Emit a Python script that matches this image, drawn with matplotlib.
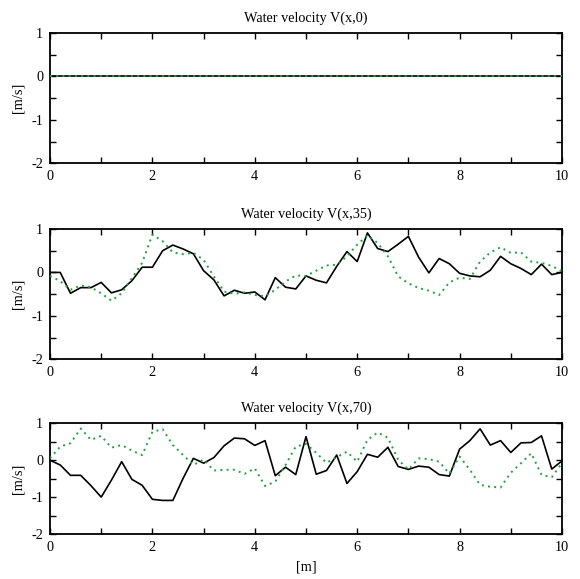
import numpy as np
import matplotlib
matplotlib.use("Agg")
import matplotlib.pyplot as plt

plt.rcParams['font.family'] = ['Liberation Serif', 'DejaVu Serif']

# spatial grid [m]
x = np.linspace(0, 10, 51)

# V(x,0): still water
v0_solid = np.zeros(51)
v0_dotted = np.zeros(51)

# V(x,35)
v35_solid = [0.0, 0.0, -0.48, -0.35, -0.35, -0.23, -0.47, -0.40, -0.19, 0.12,
             0.12, 0.50, 0.63, 0.54, 0.43, 0.04, -0.17, -0.54, -0.41, -0.48,
             -0.45, -0.63, -0.12, -0.34, -0.38, -0.08, -0.18, -0.24, 0.14, 0.48,
             0.25, 0.91, 0.55, 0.48, 0.65, 0.83, 0.35, -0.01, 0.32, 0.20,
             -0.02, -0.08, -0.10, 0.05, 0.37, 0.20, 0.09, -0.05, 0.19, -0.05,
             0.0]
v35_dotted = [-0.08, -0.20, -0.40, -0.30, -0.34, -0.48, -0.65, -0.48, -0.13, 0.22,
              0.87, 0.72, 0.46, 0.42, 0.45, 0.29, -0.09, -0.44, -0.49, -0.46,
              -0.52, -0.55, -0.40, -0.21, -0.07, -0.08, 0.04, 0.16, 0.18, 0.37,
              0.64, 0.85, 0.68, 0.37, -0.09, -0.25, -0.36, -0.42, -0.52, -0.23,
              -0.12, -0.15, 0.25, 0.46, 0.58, 0.45, 0.46, 0.25, 0.22, 0.15,
              0.02]

# V(x,70)
v70_solid = [0.0, -0.13, -0.41, -0.41, -0.69, -1.00, -0.54, -0.04, -0.52, -0.68,
             -1.06, -1.09, -1.09, -0.49, 0.05, -0.08, 0.07, 0.39, 0.60, 0.58,
             0.40, 0.53, -0.42, -0.19, -0.39, 0.64, -0.38, -0.28, 0.14, -0.63,
             -0.31, 0.16, 0.08, 0.35, -0.17, -0.25, -0.16, -0.19, -0.39, -0.43,
             0.30, 0.53, 0.85, 0.41, 0.53, 0.21, 0.47, 0.48, 0.66, -0.24,
             -0.02]
v70_dotted = [0.05, 0.37, 0.46, 0.86, 0.55, 0.66, 0.34, 0.41, 0.26, 0.14,
              0.77, 0.84, 0.41, 0.14, -0.13, 0.02, -0.28, -0.26, -0.26, -0.37,
              -0.22, -0.70, -0.58, -0.13, 0.37, 0.44, 0.20, -0.07, 0.08, 0.23,
              -0.04, 0.55, 0.75, 0.61, 0.01, -0.25, 0.05, 0.03, -0.04, -0.36,
              0.10, -0.26, -0.67, -0.72, -0.74, -0.34, -0.08, 0.19, -0.40, -0.46,
              -0.08]

titles = ["Water velocity V(x,0)", "Water velocity V(x,35)", "Water velocity V(x,70)"]
series = [(v0_solid, v0_dotted), (v35_solid, v35_dotted), (v70_solid, v70_dotted)]

xticks = np.arange(0, 11, 1)
xticklabels = [str(t) if t % 2 == 0 else "" for t in xticks]
yticks = np.arange(-2, 1.01, 0.5)
yticklabels = [str(int(t)) if float(t).is_integer() else "" for t in yticks]

green = "#22a03c"
fs = 10.3

fig = plt.figure(figsize=(5.8, 5.79), dpi=100)
W, H = 580.0, 579.0
boxes = [(33, 163.3), (229, 359.3), (423.3, 534)]
left, right = 50, 562

for (top, bottom), title, (solid, dotted) in zip(boxes, titles, series):
    ax = fig.add_axes([left / W, 1 - bottom / H, (right - left) / W, (bottom - top) / H])
    ax.plot(x, solid, color="black", lw=1.2, zorder=3)
    ax.plot(x, dotted, color=green, lw=1.4, linestyle=(0, (1, 2.2)), zorder=4)
    ax.set_xlim(0, 10)
    ax.set_ylim(-2, 1)
    ax.set_xticks(xticks)
    ax.set_xticklabels(xticklabels)
    ax.set_yticks(yticks)
    ax.set_yticklabels(yticklabels)
    ax.tick_params(direction="in", length=4.5, width=1.0, top=True, right=True,
                   labelsize=fs, pad=5)
    for sp in ax.spines.values():
        sp.set_linewidth(1.3)
    ax.set_title(title, fontsize=fs, pad=8)
    ax.set_ylabel("[m/s]", fontsize=fs, labelpad=5)

ax.set_xlabel("[m]", fontsize=fs, labelpad=5)

fig.savefig("out.png", dpi=100)
